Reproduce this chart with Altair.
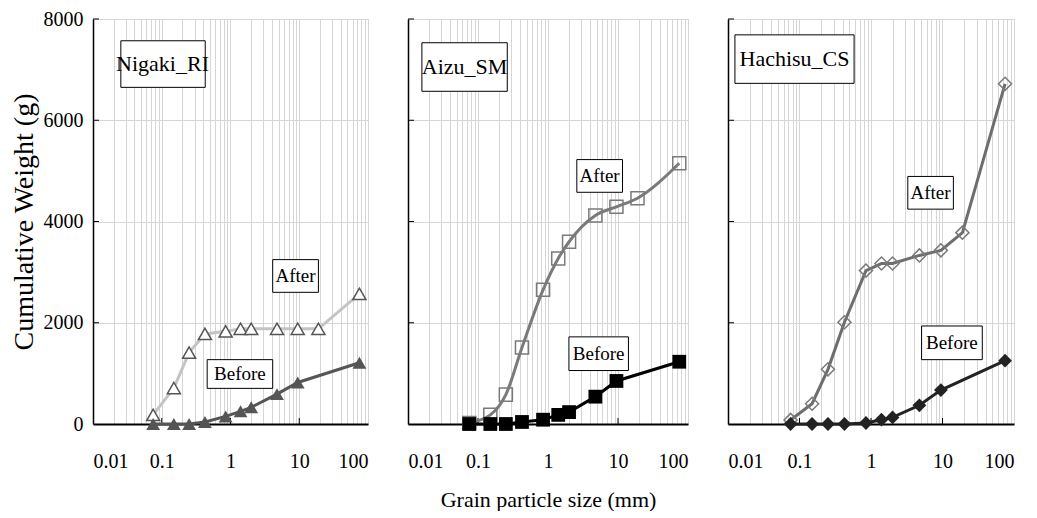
import altair as alt
import pandas as pd

# ---------------- data ----------------
sizes_after = [0.075, 0.15, 0.25, 0.425, 0.85, 1.4, 2, 4.75, 9.5, 19, 75]
sizes_before = [0.075, 0.15, 0.25, 0.425, 0.85, 1.4, 2, 4.75, 9.5, 75]

nigaki_after = [180, 710, 1410, 1780, 1830, 1880, 1880, 1880, 1880, 1880, 2570]
nigaki_before = [0, 0, 0, 40, 150, 250, 330, 590, 820, 1210]

aizu_after = [20, 180, 580, 1510, 2650, 3270, 3600, 4120, 4290, 4460, 5150]
aizu_before = [0, 0, 0, 40, 85, 180, 235, 540, 850, 1230]

hachisu_after = [80, 400, 1080, 2010, 3030, 3170, 3170, 3330, 3430, 3780, 6720]
hachisu_before = [0, 0, 0, 0, 20, 85, 130, 370, 670, 1250]

site_names = ["Nigaki_RI", "Aizu_SM", "Hachisu_CS"]
series_names = ["After", "Before"]

x_tick_values = [0.01, 0.1, 1, 10, 100]
x_tick_labels = ["0.01", "0.1", "1", "10", "100"]
y_tick_values = [0, 2000, 4000, 6000, 8000]

# minor grid positions (1..9 x each decade)
x_grid_values = [m * 10.0 ** e for e in range(-2, 2) for m in range(1, 10)] + [100]

FONT = "Liberation Serif"
H = 405

vals_js = "[" + ",".join(repr(v) for v in x_tick_values) + "]"
labs_js = "[" + ",".join("'" + s + "'" for s in x_tick_labels) + "]"
label_expr = (
    f"indexof({vals_js}, datum.value) >= 0 ? {labs_js}[indexof({vals_js}, datum.value)] : ''"
)

# annotation boxes (in data coordinates: mm, g)
annots = [
    [  # Nigaki
        dict(text=site_names[0], x1=0.0254, x2=0.429, y1=6650, y2=7570, xc=0.1026, yc=7110, fs=22),
        dict(text=series_names[0], x1=4.11, x2=19.0, y1=2601, y2=3247, xc=8.83, yc=2924, fs=19),
        dict(text=series_names[1], x1=0.458, x2=4.11, y1=704, y2=1271, xc=1.37, yc=988, fs=19),
    ],
    [  # Aizu
        dict(text=site_names[1], x1=0.0158, x2=0.262, y1=6572, y2=7531, xc=0.0644, yc=7051, fs=22),
        dict(text=series_names[0], x1=2.58, x2=11.6, y1=4577, y2=5223, xc=5.47, yc=4900, fs=19),
        dict(text=series_names[1], x1=1.99, x2=14.1, y1=1056, y2=1721, xc=5.29, yc=1389, fs=19),
    ],
    [  # Hachisu
        dict(text=site_names[2], x1=0.0125, x2=0.58, y1=6729, y2=7687, xc=0.0852, yc=7208, fs=22),
        dict(text=series_names[0], x1=3.27, x2=14.2, y1=4244, y2=4890, xc=6.81, yc=4567, fs=19),
        dict(text=series_names[1], x1=5.1, x2=36.0, y1=1271, y2=1936, xc=13.5, yc=1604, fs=19),
    ],
]


def make_panel(idx, after_vals, before_vals, shape, after_line, after_pt, after_fill,
               before_col, width, first, middle, after_interp):
    xscale = alt.Scale(type="log", domain=[0.01, 100], nice=False)
    yscale = alt.Scale(domain=[0, 8000], nice=False)
    xaxis = alt.Axis(
        values=x_grid_values, grid=True, gridColor="#d6d6d6", gridWidth=1,
        ticks=False, labelExpr=label_expr, labelOverlap=False,
        labelFont=FONT, labelFontSize=20, labelColor="black", labelPadding=27,
        domainColor="black", domainWidth=2,
        title="Grain particle size (mm)" if middle else "",
        titleFont=FONT, titleFontSize=22, titleFontWeight="normal",
        titleColor="black", titlePadding=18,
    )
    yaxis = alt.Axis(
        values=y_tick_values, grid=True, gridColor="#d6d6d6", gridWidth=1,
        ticks=False, labels=first, format="d", labelFont=FONT, labelFontSize=20,
        labelColor="black", labelPadding=10,
        domainColor="black", domainWidth=1.5,
        title="Cumulative Weight (g)" if first else "",
        titleFont=FONT, titleFontSize=28, titleFontWeight="normal",
        titleColor="black", titlePadding=5,
    )

    df_a = pd.DataFrame({"size": sizes_after, "w": after_vals})
    df_b = pd.DataFrame({"size": sizes_before, "w": before_vals})

    base_a = alt.Chart(df_a).encode(
        x=alt.X("size:Q", scale=xscale, axis=xaxis),
        y=alt.Y("w:Q", scale=yscale, axis=yaxis),
    )
    line_a = base_a.mark_line(color=after_line, strokeWidth=3, interpolate=after_interp)
    pt_kwargs = dict(shape=shape, size=170, stroke=after_pt, strokeWidth=1.5, opacity=1)
    if after_fill:
        pts_a = base_a.mark_point(filled=False, fill="white", fillOpacity=1, **pt_kwargs)
    else:
        pts_a = base_a.mark_point(filled=False, **pt_kwargs)

    base_b = alt.Chart(df_b).encode(x="size:Q", y="w:Q")
    line_b = base_b.mark_line(color=before_col, strokeWidth=3)
    pts_b = base_b.mark_point(filled=True, shape=shape, size=190, color=before_col, opacity=1)

    # inside tick marks on the y axis and x axis (major values only)
    yt = alt.Chart(pd.DataFrame({"t": y_tick_values[1:]})).mark_rule(
        color="black", strokeWidth=1
    ).encode(y="t:Q", x=alt.value(0), x2=alt.value(6))
    xt = alt.Chart(pd.DataFrame({"t": x_tick_values[1:-1]})).mark_rule(
        color="black", strokeWidth=1
    ).encode(x="t:Q", y=alt.value(H), y2=alt.value(H - 6))

    ann = pd.DataFrame(annots[idx])
    boxes = alt.Chart(ann).mark_rect(fill="white", stroke="black", strokeWidth=1).encode(
        x="x1:Q", x2="x2:Q", y="y1:Q", y2="y2:Q"
    )
    texts = alt.Chart(ann).mark_text(
        font=FONT, color="black", align="center", baseline="middle"
    ).encode(
        x="xc:Q", y="yc:Q", text="text:N",
        size=alt.Size("fs:Q", scale=None, legend=None),
    )

    return alt.layer(yt, xt, line_a, pts_a, line_b, pts_b, boxes, texts).properties(
        width=width, height=H
    )


p1 = make_panel(0, nigaki_after, nigaki_before, "triangle-up", "#c4c4c4", "#555555", True,
                "#555555", 275, True, False, "linear")
p2 = make_panel(1, aizu_after, aizu_before, "square", "#7a7a7a", "#7a7a7a", False,
                "#000000", 280, False, True, "monotone")
p3 = make_panel(2, hachisu_after, hachisu_before, "diamond", "#6e6e6e", "#7a7a7a", False,
                "#222222", 286, False, False, "linear")

chart = alt.hconcat(p1, p2, p3, spacing=40, bounds="flush").configure_view(
    stroke="#a8a8a8", strokeWidth=1
).configure_axis(
    labelFont=FONT, titleFont=FONT
).configure_text(
    font=FONT
).properties(
    background="white", padding={"left": 1, "top": 0, "right": 0, "bottom": 0}
)

chart.save("out.html", embed_options={"renderer": "svg", "actions": False})
